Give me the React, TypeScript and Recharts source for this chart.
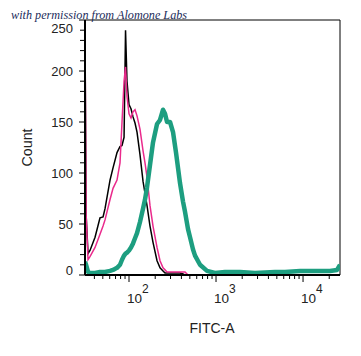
import React from 'react';
import { LineChart, Line, XAxis, YAxis, ReferenceLine } from 'recharts';

// FITC-A channel values (log axis)
const channels = [
  31.2, 32.1, 33.8, 35.6, 40.7, 46.4, 50.3, 53.0, 60.5, 65.5, 72.8, 78.8, 83.1, 87.7, 91.2,
  94.8, 100, 105.4, 111.2, 117.2, 123.6, 133.7, 144.8, 152.7, 161.1, 174.3, 188.7, 209.9,
  227.2, 246, 259.4, 273.6, 296.1, 320.5, 346.9, 385.7, 417.5, 440.3, 476.6, 502.7, 544.1,
  573.8, 654.8, 788, 973.8, 1268, 1888, 2805, 4765, 6209, 9247, 13740, 20420, 24600, 26600,
];

// counts per channel
const isotype = [
  240, 60, 21, 24, 37, 56, 57, 65, 93, 105, 120, 126, 127, 135, 240,
  190, 167, 163, 155, 149, 140, 118, 92, 80, 68, 48, 32, 14,
  7, 4, 2, 2, 2, 2, 2, 2, 1, 0, 0, 0, 0,
  0, 0, 0, 0, 0, 0, 0, 0, 0, 0, 0, 0, 0, 0,
];
const unstained = [
  240, 60, 15, 18, 27, 40, 48, 54, 74, 85, 93, 110, 150, 190, 204,
  175, 158, 154, 160, 162, 156, 143, 122, 110, 96, 68, 48, 27,
  14, 7, 5, 3, 3, 3, 3, 3, 3, 3, 0, 0, 0,
  0, 0, 0, 0, 0, 0, 0, 0, 0, 0, 0, 0, 0, 0,
];
const stained = [
  13, 10, 3, 2, 2, 3, 3, 3, 4, 5, 7, 10, 15, 19, 21,
  22, 24, 27, 31, 36, 41, 52, 65, 74, 86, 108, 130, 148,
  152, 162, 158, 150, 150, 140, 120, 90, 72, 62, 45, 37, 25,
  19, 10, 4, 2, 3, 3, 2, 3, 3, 4, 4, 4, 5, 10,
];

const yTicks = Array.from({ length: 26 }, (_, i) => i * 10);
const xTicks = [40, 50, 60, 70, 80, 90, 100, 200, 300, 400, 500, 600, 700, 800, 900, 1000,
  2000, 3000, 4000, 5000, 6000, 7000, 8000, 9000, 10000, 20000];
const xMajors = [100, 1000, 10000];

const data = channels.map((x, i) => ({
  x,
  isotype: isotype[i],
  unstained: unstained[i],
  stained: stained[i],
}));

const font = '"Liberation Sans", Arial, sans-serif';

// x here is 5px left of the axis line (tickSize 5, tickMargin 0)
const YTick = (props: any) => {
  const { x, y, payload } = props;
  const major = payload.value % 50 === 0;
  const cy = Math.min(Math.max(y, 28.5), 270.5);
  return (
    <g>
      <line x1={major ? x - 1 : x} x2={x + 5} y1={y} y2={y} stroke="#000" strokeWidth={1} />
      {major && (
        <text x={x - 7} y={cy + 4.7} textAnchor="end" fontSize={13} fontFamily={font} fill="#222">
          {payload.value}
        </text>
      )}
    </g>
  );
};

// y here is 4px below the axis line
const XTick = (props: any) => {
  const { x, y, payload } = props;
  const major = xMajors.includes(payload.value);
  const exp = Math.round(Math.log10(payload.value));
  return (
    <g>
      <line x1={x} x2={x} y1={y - 4} y2={y + (major ? 3 : 0)} stroke="#000" strokeWidth={1} />
      {major && (
        <text x={x - 2} y={y + 24} fontSize={13.5} fontFamily={font} fill="#222">
          10
          <tspan dy={-10} fontSize={12}>{exp}</tspan>
        </text>
      )}
    </g>
  );
};

export default function App() {
  return (
    <div style={{ position: 'absolute', left: 0, top: 0, width: 361, height: 356, background: '#fff' }}>
      <LineChart width={361} height={356} data={data} margin={{ top: 20, right: 21, left: 25, bottom: 21 }}>
        <XAxis
          dataKey="x"
          type="number"
          scale="log"
          domain={[31.2, 26600]}
          allowDataOverflow
          ticks={xTicks}
          interval={0}
          tick={<XTick />}
          tickLine={false}
          tickSize={4}
          tickMargin={0}
          height={60}
          axisLine={{ stroke: '#000', strokeWidth: 2 }}
        />
        <YAxis
          type="number"
          domain={[0, 250]}
          ticks={yTicks}
          interval={0}
          tick={<YTick />}
          tickLine={false}
          tickSize={5}
          tickMargin={0}
          width={60}
          axisLine={{ stroke: '#000', strokeWidth: 2 }}
        />
        <ReferenceLine y={250} stroke="#000" strokeWidth={1} />
        <ReferenceLine x={26600} stroke="#000" strokeWidth={1} />
        <Line dataKey="isotype" type="linear" stroke="#000" strokeWidth={1.5} dot={false} isAnimationActive={false} />
        <Line dataKey="unstained" type="linear" stroke="#ea2a8c" strokeWidth={1.5} dot={false} isAnimationActive={false} />
        <Line dataKey="stained" type="linear" stroke="#1d9e80" strokeWidth={4.5} strokeLinejoin="round" dot={false} isAnimationActive={false} />
      </LineChart>
      <div style={{ position: 'absolute', left: 0, top: 0, width: 361, height: 356, pointerEvents: 'none' }}>
        <svg width={361} height={356}>
          <text x={32} y={147.5} transform="rotate(-90 32 147.5)" textAnchor="middle" fontSize={14.3} fontFamily={font} fill="#222">
            Count
          </text>
          <text x={212} y={332.5} textAnchor="middle" fontSize={14} fontFamily={font} fill="#222">
            FITC-A
          </text>
          <text x={11} y={19} fontSize={12.2} fontStyle="italic" fontFamily='"Liberation Serif", "DejaVu Serif", serif' fill="#1c2d5c">
            with permission from Alomone Labs
          </text>
        </svg>
      </div>
    </div>
  );
}
